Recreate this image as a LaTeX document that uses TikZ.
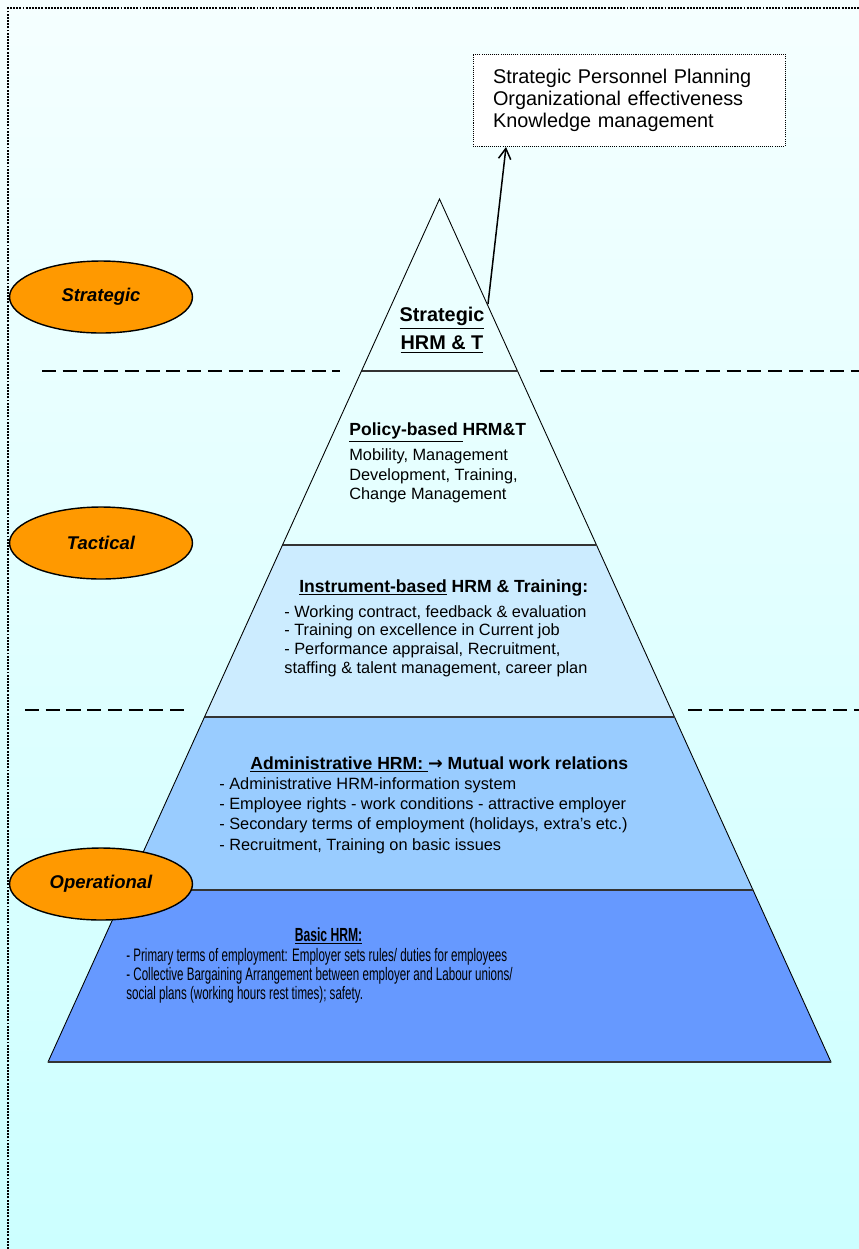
\documentclass[tikz,border=0pt]{standalone}
\usepackage{fontspec}
\setmainfont{Liberation Sans}
\newfontfamily\narrowfont{Liberation Sans}[FakeStretch=0.64]
\newfontfamily\arrowfont{DejaVu Sans}
\usetikzlibrary{shapes.geometric, arrows.meta, positioning}

\definecolor{bgtop}{HTML}{F5FFFF}
\definecolor{bgbottom}{HTML}{CCFFFF}
\definecolor{levelorange}{HTML}{FF9900}
\definecolor{tierpale}{HTML}{CCECFF}
\definecolor{tiermid}{HTML}{99CCFF}
\definecolor{tierdark}{HTML}{6699FF}

\tikzset{
  levelnode/.style={ellipse, draw=black, line width=0.8pt, fill=levelorange,
    minimum width=3.66cm, minimum height=1.44cm, inner sep=0pt,
    font=\fontsize{10.5}{12}\selectfont\bfseries\itshape},
  divider/.style={black, line width=1.1pt, dash pattern=on 8pt off 3.8pt},
  tier/.style={draw=black, line width=0.5pt},
  tierline/.style={black!80, line width=0.9pt},
  tierhead/.style={anchor=base west, inner sep=0pt, font=\fontsize{10}{12}\selectfont\bfseries},
  tierbody/.style={anchor=base west, inner sep=0pt, align=left, font=\fontsize{9.3}{11}\selectfont},
}

\begin{document}
\begin{tikzpicture}[x=0.02cm, y=-0.02cm]
\useasboundingbox (0,0) rectangle (859,1249);

% background and page frame
\shade[top color=bgtop, bottom color=bgbottom] (0,0) rectangle (859,1249);
\draw[line width=0.75pt, dash pattern=on 1.1pt off 0.7pt] (8,1249) -- (8,8) -- (859,8);

% pyramid tiers (top to bottom)
\draw[tier] (439.5,199) -- (517.5,371) -- (361.5,371) -- cycle;
\draw[tier] (361.5,371) -- (517.5,371) -- (596.5,545) -- (282.5,545) -- cycle;
\filldraw[tier, fill=tierpale] (282.5,545) -- (596.5,545) -- (674.5,717) -- (204.5,717) -- cycle;
\filldraw[tier, fill=tiermid] (204.5,717) -- (674.5,717) -- (753,890) -- (126,890) -- cycle;
\filldraw[tier, fill=tierdark] (126,890) -- (753,890) -- (831,1062) -- (48,1062) -- cycle;

% tier borders
\draw[tierline] (361.5,371) -- (517.5,371);
\draw[tierline] (282.5,545) -- (596.5,545);
\draw[tierline] (204.5,717) -- (674.5,717);
\draw[tierline] (126,890) -- (753,890);
\draw[tierline] (48,1062) -- (831,1062);

% level dividers
\draw[divider] (42,371) -- (340,371);
\draw[divider] (540,371) -- (859,371);
\draw[divider] (25,710) -- (190,710);
\draw[divider] (688,710) -- (859,710);

% level labels
\node[levelnode] (strategic) at (101,297) {Strategic};
\node[levelnode] (tactical) at (101,543) {Tactical};
\node[levelnode] (operational) at (101,884) {Operational};

% strategic goals box
\node[draw=black, line width=0.5pt, dash pattern=on 0.6pt off 0.6pt, fill=white,
      minimum width=6.24cm, minimum height=1.84cm, inner xsep=0.4cm,
      text width=5.44cm, align=left, font=\fontsize{11.3}{12.5}\selectfont]
      (goals) at (629,100) {Strategic Personnel Planning\\Organizational effectiveness\\Knowledge management};
\coordinate (tipstart) at (488,304);
\coordinate (tipend) at (506,147);
\draw[line width=0.85pt, -{Straight Barb[length=6pt, width=7pt]}] (tipstart) -- (tipend);

% tier texts (multi-line nodes sit on their last baseline)
\node[anchor=base, inner sep=0pt, align=center, font=\fontsize{11.3}{15.6}\selectfont\bfseries]
      (strathrm) at (442,349.3) {\underline{Strategic}\\\underline{HRM \& T}};

\node[tierhead] (policyhead) at (349,435) {\underline{Policy-based\ }HRM\&T};
\node[tierbody] (policybody) at (349,499.6) {Mobility, Management\\Development, Training,\\Change Management};

\node[tierhead] (instrhead) at (299,592) {\underline{Instrument-based} HRM \& Training:};
\node[tierbody, font=\fontsize{9.3}{10.7}\selectfont] (instrbody) at (284,673.5) {- Working contract, feedback \& evaluation\\- Training on excellence in Current job\\- Performance appraisal, Recruitment,\\staffing \& talent management, career plan};

\node[tierhead] (adminhead) at (250,769) {\underline{Administrative HRM:\ }{\arrowfont\bfseries →} Mutual work relations};
\node[tierbody, font=\fontsize{9.3}{11.4}\selectfont] (adminbody) at (219,850) {- Administrative HRM-information system\\- Employee rights - work conditions - attractive employer\\- Secondary terms of employment (holidays, extra’s etc.)\\- Recruitment, Training on basic issues};

\node[anchor=base, inner sep=0pt, font=\narrowfont\fontsize{10.8}{12}\selectfont\bfseries]
      (basichead) at (328.5,941) {\underline{Basic HRM:}};
\node[tierbody, font=\narrowfont\fontsize{10.3}{10.8}\selectfont] (basicbody) at (126,999)
      {- Primary terms of employment: Employer sets rules/ duties for employees\\- Collective Bargaining Arrangement between employer and Labour unions/\\social plans (working hours rest times); safety.};
\end{tikzpicture}
\end{document}
